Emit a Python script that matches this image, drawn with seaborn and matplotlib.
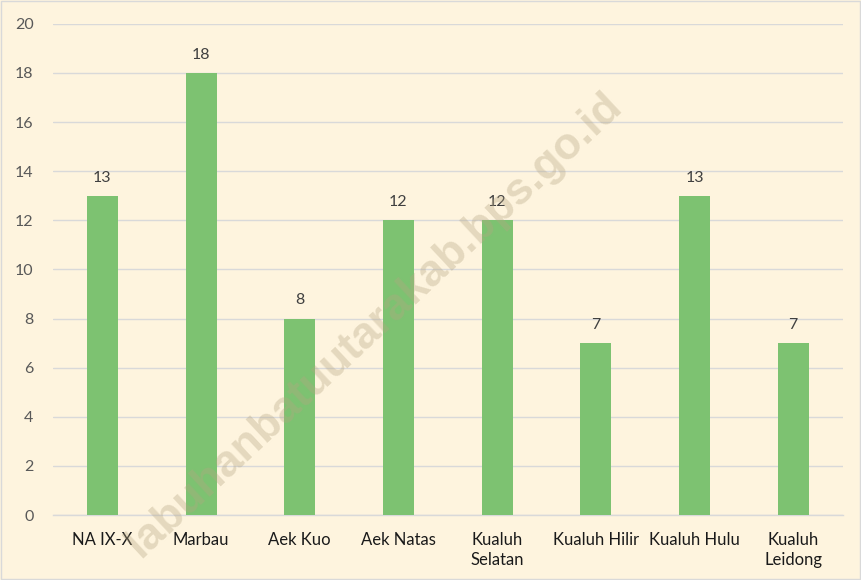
import matplotlib
matplotlib.use("Agg")
import matplotlib.pyplot as plt
import seaborn as sns
import pandas as pd

categories = ["NA IX-X", "Marbau", "Aek Kuo", "Aek Natas", "Kualuh\nSelatan",
              "Kualuh Hilir", "Kualuh Hulu", "Kualuh\nLeidong"]
values = [13, 18, 8, 12, 12, 7, 13, 7]
yticks = [0, 2, 4, 6, 8, 10, 12, 14, 16, 18, 20]

sns.set_theme(style="white")
plt.rcParams['font.family'] = ['Lato', 'DejaVu Sans']

bg = "#FEF4DE"
fig = plt.figure(figsize=(8.61, 5.8), dpi=100, facecolor=bg)
ax = fig.add_axes([0.0616, 0.112, 0.917, 0.847])
ax.set_facecolor(bg)

df = pd.DataFrame({"cat": categories, "val": values})
sns.barplot(data=df, x="cat", y="val", color="#7DC271", saturation=1,
            width=0.315, linewidth=0, ax=ax, zorder=3)

ax.set_ylim(0, 20)
ax.set_yticks(yticks)
ax.set_xlim(-0.5, len(categories) - 0.5)
ax.yaxis.grid(True, color="#D9D9D9", linewidth=1, zorder=0)
ax.set_axisbelow(True)
for s in ["top", "right", "left"]:
    ax.spines[s].set_visible(False)
ax.spines["bottom"].set_color("#D9D9D9")
ax.spines["bottom"].set_linewidth(1)
ax.set_xlabel("")
ax.set_ylabel("")
ax.tick_params(axis="y", labelsize=11.5, colors="#595959", length=0, pad=14)
ax.tick_params(axis="x", labelsize=12, colors="#000000", length=0, pad=12)
for lbl in ax.get_xticklabels():
    lbl.set_linespacing(1.35)
    lbl.set_color("#1A1A1A")

for i, v in enumerate(values):
    ax.annotate(str(v), (i, v), xytext=(0, 8), textcoords="offset points",
                ha="center", va="bottom", fontsize=11.5, color="#404040")

fig.text(0.435, 0.44, "labuhanbatuutarakab.bps.go.id", rotation=43,
         ha="center", va="center", fontsize=32, fontweight="bold",
         family="Liberation Sans", color="#B5A582", alpha=0.35, zorder=10)

fig.patches.append(plt.Rectangle((0.001, 0.001), 0.998, 0.998, transform=fig.transFigure,
                                 fill=False, edgecolor="#D9D9D9", linewidth=1))

fig.savefig("out.png", dpi=100, facecolor=bg)
